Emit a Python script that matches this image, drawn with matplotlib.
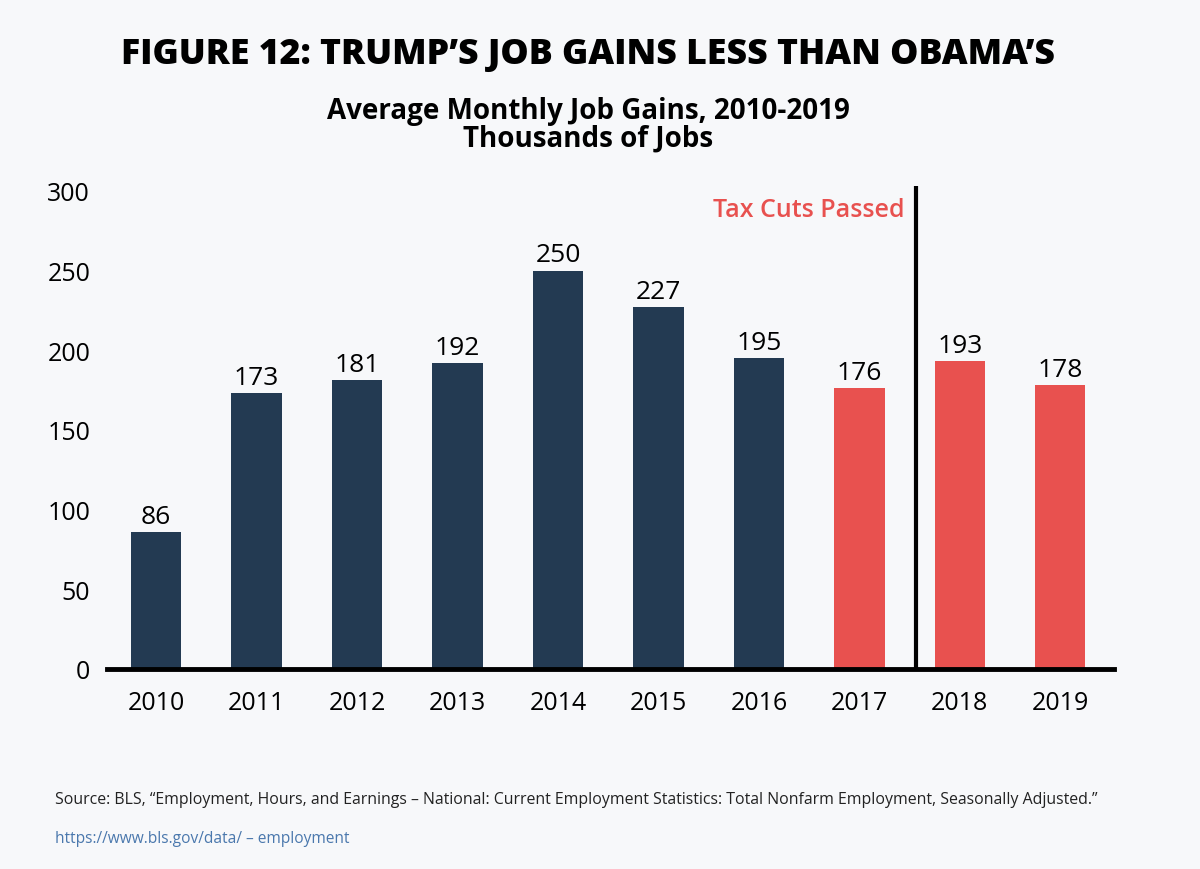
import matplotlib
matplotlib.use("Agg")
import matplotlib.pyplot as plt
import numpy as np

plt.rcParams['font.family'] = ['Open Sans', 'DejaVu Sans']

# data
years = ["2010", "2011", "2012", "2013", "2014", "2015", "2016", "2017", "2018", "2019"]
gains = [86, 173, 181, 192, 250, 227, 195, 176, 193, 178]
president = ["Obama"] * 7 + ["Trump"] * 3
yticks = [0, 50, 100, 150, 200, 250, 300]

BG = "#f7f8fa"
NAVY = "#233a52"
RED = "#e8514f"
colors = [NAVY if p == "Obama" else RED for p in president]

fig = plt.figure(figsize=(12, 8.7), dpi=100, facecolor=BG)
ax = fig.add_axes([0.089, 0.23, 0.839, 0.555], facecolor=BG)

x = np.arange(len(years))
ax.bar(x, gains, width=0.5, color=colors, zorder=2)
for xi, v in zip(x, gains):
    ax.text(xi, v + 2, str(v), ha="center", va="bottom", fontsize=19, color="black")

ax.set_xlim(-0.49, 9.53)
ax.set_ylim(0, 303)
ax.set_xticks(x)
ax.set_xticklabels(years, fontsize=18)
ax.set_yticks(yticks)
ax.set_yticklabels([str(t) for t in yticks], fontsize=18)
ax.tick_params(axis="both", length=0)
ax.tick_params(axis="x", pad=15)
ax.tick_params(axis="y", pad=12)
for s in ("top", "right", "left"):
    ax.spines[s].set_visible(False)
ax.spines["bottom"].set_linewidth(3.5)
ax.spines["bottom"].set_zorder(3)

# tax cuts marker
ax.axvline(7.56, ymin=0, ymax=1.0, color="black", linewidth=3, zorder=3)
ax.text(7.45, 288, "Tax Cuts Passed", ha="right", va="center", fontsize=18,
        fontweight="semibold", color=RED)

fig.text(0.49, 0.937, "FIGURE 12: TRUMP\u2019S JOB GAINS LESS THAN OBAMA\u2019S",
         ha="center", va="center", fontsize=25.7, fontweight="heavy", color="black")
fig.text(0.49, 0.856, "Average Monthly Job Gains, 2010-2019\nThousands of Jobs",
         ha="center", va="center", fontsize=20, fontweight="bold", color="black",
         linespacing=0.92)

fig.text(0.046, 0.08, "Source: BLS, \u201cEmployment, Hours, and Earnings \u2013 National: Current Employment "
         "Statistics: Total Nonfarm Employment, Seasonally Adjusted.\u201d",
         ha="left", va="center", fontsize=11.4, color="#222222")
fig.text(0.046, 0.036, "https://www.bls.gov/data/ \u2013 employment",
         ha="left", va="center", fontsize=11.2, color="#4a78ad")

fig.savefig("out.png", dpi=100, facecolor=BG)
